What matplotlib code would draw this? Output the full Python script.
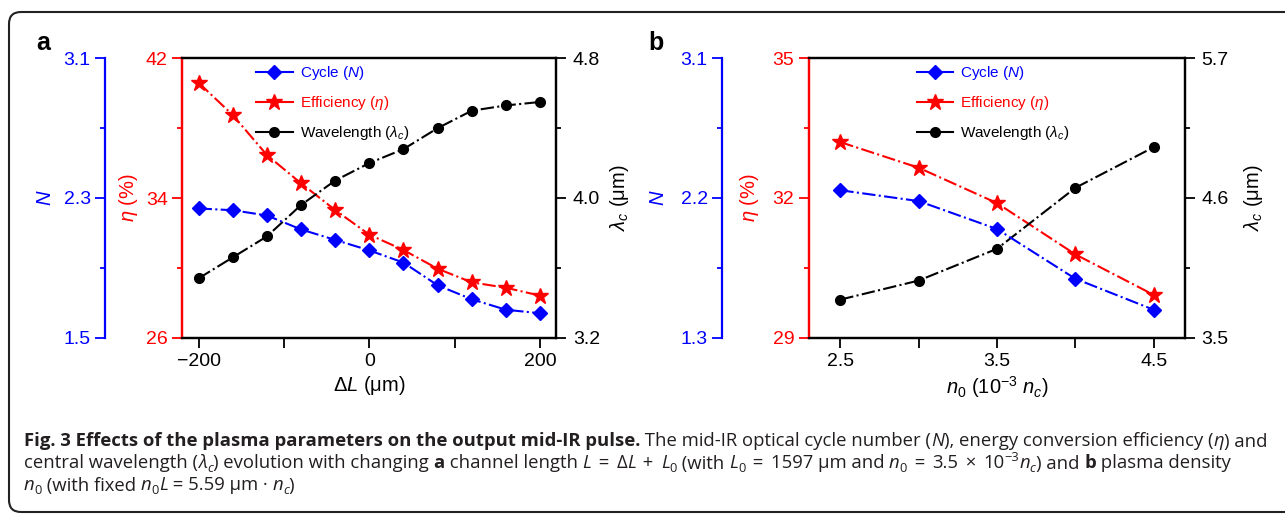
import matplotlib
matplotlib.use("Agg")
import matplotlib.pyplot as plt
from matplotlib.lines import Line2D
from matplotlib.patches import FancyBboxPatch
from matplotlib.ticker import FixedLocator
from matplotlib.font_manager import FontProperties
from matplotlib.transforms import IdentityTransform

# ---------------- data ----------------
dL = [-200, -160, -120, -80, -40, 0, 40, 80, 120, 160, 200]
cycle_a = [2.24, 2.23, 2.20, 2.12, 2.06, 2.00, 1.93, 1.80, 1.72, 1.66, 1.64]
eff_a = [40.6, 38.75, 36.46, 34.84, 33.31, 31.90, 31.02, 29.95, 29.17, 28.86, 28.41]
wav_a = [3.54, 3.66, 3.78, 3.96, 4.10, 4.20, 4.28, 4.40, 4.50, 4.53, 4.55]

n0 = [2.5, 3.0, 3.5, 4.0, 4.5]
cycle_b = [2.25, 2.18, 2.00, 1.68, 1.48]
eff_b = [33.20, 32.65, 31.89, 30.79, 29.92]
wav_b = [3.80, 3.95, 4.20, 4.68, 5.00]

labels = ["Cycle ($N$)", r"Efficiency ($\eta$)", r"Wavelength ($\lambda_c$)"]

BLUE = "#0000FF"
RED = "#FF0000"
BLACK = "#000000"

plt.rcParams["font.family"] = ["Liberation Sans", "DejaVu Sans"]
plt.rcParams["mathtext.fontset"] = "custom"
plt.rcParams["mathtext.rm"] = "Liberation Sans"
plt.rcParams["mathtext.it"] = "Liberation Sans:italic"
plt.rcParams["mathtext.bf"] = "Liberation Sans:bold"

W, H = 1285, 514
fig = plt.figure(figsize=(W / 100, H / 100), dpi=100)

TICK_FS = 14
LAB_FS = 14.5


def style_axis(ax, side, color, lim):
    lo, hi = lim
    ax.set_ylim(lo, hi)
    ax.yaxis.set_major_locator(FixedLocator([lo, (lo + hi) / 2, hi]))
    ax.yaxis.set_minor_locator(FixedLocator([lo + (hi - lo) / 4, lo + 3 * (hi - lo) / 4]))
    ax.tick_params(axis="y", which="both", direction="out", colors=color,
                   width=1.3, labelsize=TICK_FS)
    ax.tick_params(axis="y", which="major", length=7, pad=3.5)
    ax.tick_params(axis="y", which="minor", length=3.5)
    ax.yaxis.set_ticks_position(side)


def panel(rect, x, cyc, eff, wav, xlim, xticks, xminor, nlim, elim, wlim,
          blue_off_px, xlabel, lab_x, leg_x, letter, letter_x):
    ax = fig.add_axes(rect)
    axw = ax.twinx()
    axn = ax.twinx()

    # efficiency (red, left spine)
    ax.plot(x, eff, color=RED, ls="-.", lw=1.5, marker="*", ms=12, zorder=3)
    style_axis(ax, "left", RED, elim)
    ax.set_xlim(*xlim)
    ax.xaxis.set_major_locator(FixedLocator(xticks))
    ax.xaxis.set_minor_locator(FixedLocator(xminor))
    ax.tick_params(axis="x", which="both", direction="out", width=1.3,
                   labelsize=TICK_FS, top=False)
    ax.tick_params(axis="x", which="major", length=7, pad=4)
    ax.tick_params(axis="x", which="minor", length=7)
    ax.set_xlabel(xlabel, fontsize=LAB_FS, labelpad=3)
    ax.set_ylabel(r"$\eta$ (%)", color=RED, fontsize=LAB_FS)

    # wavelength (black, right)
    axw.plot(x, wav, color=BLACK, ls="-.", lw=1.5, marker="o", ms=7, zorder=3)
    style_axis(axw, "right", BLACK, wlim)
    axw.tick_params(axis="y", which="major", pad=5)
    axw.set_ylabel(r"$\lambda_c$ ($\mathrm{\mu}$m)", fontsize=LAB_FS)

    # cycle (blue, offset left)
    axn.plot(x, cyc, color=BLUE, ls="-.", lw=1.5, marker="D", ms=7, zorder=3)
    style_axis(axn, "left", BLUE, nlim)
    axn.yaxis.set_label_position("left")
    axn.set_ylabel("$N$", color=BLUE, fontsize=LAB_FS)
    for s in ["top", "bottom", "right"]:
        axn.spines[s].set_visible(False)
    axn.spines["left"].set_position(("outward", blue_off_px * 72.0 / 100.0))
    axn.spines["left"].set_color(BLUE)
    axn.spines["left"].set_linewidth(1.6)

    for s in ["top", "bottom", "left", "right"]:
        ax.spines[s].set_linewidth(1.6)
        axw.spines[s].set_linewidth(1.6)
    ax.spines["left"].set_color(RED)
    axw.spines["left"].set_color(RED)
    for a in (ax, axw, axn):
        a.patch.set_visible(False)

    # label placement
    for a, lx in ((axn, lab_x[0]), (ax, lab_x[1]), (axw, lab_x[2])):
        a.yaxis.set_label_coords(lx, 0.5)
        a.yaxis.label.set_rotation(90)
        a.yaxis.label.set_rotation_mode("anchor")
        a.yaxis.label.set_va("center")
        a.yaxis.label.set_ha("center")

    handles = [
        Line2D([], [], color=BLUE, lw=1.5, marker="D", ms=7),
        Line2D([], [], color=RED, lw=1.5, marker="*", ms=12),
        Line2D([], [], color=BLACK, lw=1.5, marker="o", ms=7),
    ]
    leg = ax.legend(handles, labels, loc="upper left", bbox_to_anchor=(leg_x, 0.978),
                    frameon=False, fontsize=11, handlelength=2.4, handletextpad=0.45,
                    labelspacing=0.78, borderpad=0, borderaxespad=0)
    for t, c in zip(leg.get_texts(), [BLUE, RED, BLACK]):
        t.set_color(c)
    fig.text(letter_x / W, 1 - 43 / H, letter, fontsize=18, fontweight="bold",
             ha="center", va="center")
    return ax


bottom = 1 - 337.7 / H
height = 279.4 / H
panel([182.4 / W, bottom, 373.9 / W, height], dL, cycle_a, eff_a, wav_a,
      (-219, 219), [-200, 0, 200], [-100, 100], (1.5, 3.1), (26, 42), (3.2, 4.8),
      77, r"$\Delta L$ ($\mathrm{\mu}$m)", (-0.365, -0.144, 1.170), 0.197, "a", 43)
panel([809 / W, bottom, 376 / W, height], n0, cycle_b, eff_b, wav_b,
      (2.3, 4.7), [2.5, 3.5, 4.5], [3.0, 4.0], (1.3, 3.1), (29, 35), (3.5, 5.7),
      86.7, r"$n_0$ (10$^{-3}$ $n_c$)", (-0.400, -0.157, 1.181), 0.286, "b", 656)

# ---------------- frame ----------------
frame = FancyBboxPatch((9, 2), 1310, 500, boxstyle="round,pad=0,rounding_size=12",
                       transform=IdentityTransform(), fill=False, ec="#222222", lw=1.5,
                       clip_on=False)
fig.patches.append(frame)

# ---------------- caption ----------------
renderer = fig.canvas.get_renderer()
CAP = ["Open Sans", "DejaVu Sans"]


def fp(style, size):
    weight = "bold" if style == "b" else "normal"
    st = "italic" if style == "i" else "normal"
    return FontProperties(family=CAP, weight=weight, style=st, size=size)


def width(s, prop):
    w1 = renderer.get_text_width_height_descent("|" + s + "|", prop, ismath=False)[0]
    w0 = renderer.get_text_width_height_descent("||", prop, ismath=False)[0]
    return w1 - w0


def run_info(r, size):
    s, st = r[0], r[1]
    if st == "gap":
        return s, None, r[2]
    pos = r[2] if len(r) > 2 else None
    sz = size * (0.7 if pos else 1.0)
    prop = fp(st, sz)
    return s, prop, pos


def line_width(runs, size):
    tot = 0
    for r in runs:
        s, prop, pos = run_info(r, size)
        tot += pos if prop is None else width(s, prop)
    return tot


def draw_line(runs, x0, y0, size, color="#231f20"):
    x = x0
    for r in runs:
        s, prop, pos = run_info(r, size)
        if prop is None:
            x += pos
            continue
        dy = 0
        if pos == "sub":
            dy = -0.2 * size * 100 / 72
        elif pos == "sup":
            dy = 0.42 * size * 100 / 72
        fig.text(x, H - y0 + dy, s, fontproperties=prop, color=color,
                 transform=IdentityTransform(), va="baseline", ha="left")
        x += width(s, prop)


G = ("", "gap", 2.5)
line1 = [("Fig. 3 Effects of the plasma parameters on the output mid-IR pulse.", "b"),
         (" The mid-IR optical cycle number (", "r"), ("N", "i"),
         ("), energy conversion efficiency (", "r"), ("η", "i"), (") and", "r")]
line2 = [("central wavelength (", "r"), ("λ", "i"), ("c", "i", "sub"),
         (") evolution with changing ", "r"), ("a", "b"), (" channel length ", "r"),
         ("L", "i"), G, (" = ", "r"), G, ("Δ", "r"), ("L", "i"), G, (" + ", "r"), G,
         ("L", "i"), ("0", "r", "sub"),
         (" (with ", "r"), ("L", "i"), ("0", "r", "sub"), G, (" = ", "r"), G,
         ("1597 μm and ", "r"),
         ("n", "i"), ("0", "r", "sub"), G, (" = ", "r"), G, ("3.5", "r"), G, (" × ", "r"), G,
         ("10", "r"), ("−3", "r", "sup"),
         ("n", "i"), ("c", "i", "sub"), (") and ", "r"), ("b", "b"), (" plasma density", "r")]
line3 = [("n", "i"), ("0", "r", "sub"), (" (with fixed ", "r"), ("n", "i"), ("0", "r", "sub"),
         ("L", "i"), (" = 5.59 μm · ", "r"), ("n", "i"), ("c", "i", "sub"), (")", "r")]

base = 11.8
size = base * 1238.0 / line_width(line1, base)
draw_line(line1, 24, 446.5, size)
draw_line(line2, 24, 468.5, size)
draw_line(line3, 24, 490.5, size)

fig.savefig("out.png", dpi=100)
